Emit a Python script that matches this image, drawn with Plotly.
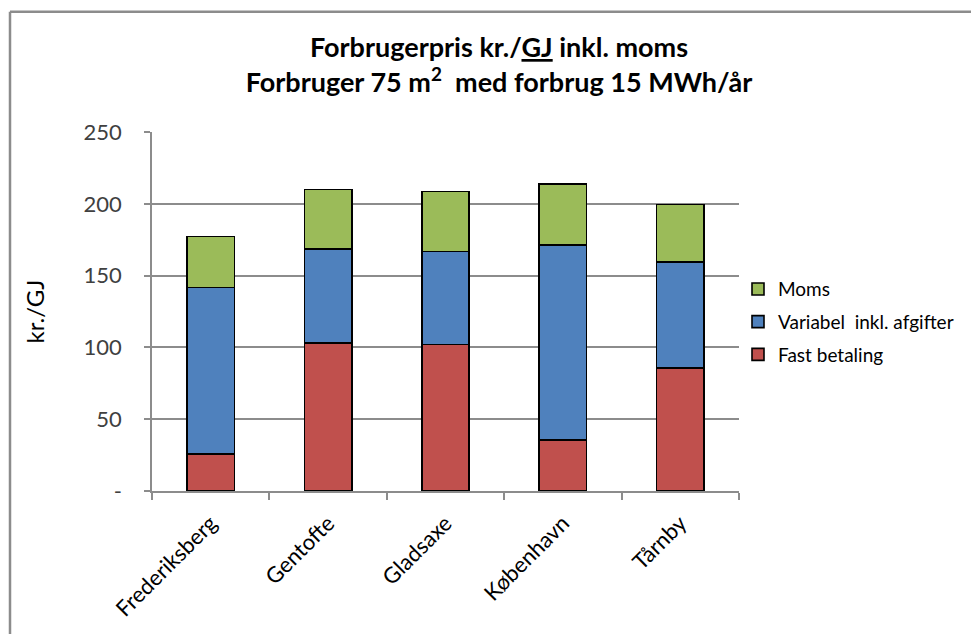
import plotly.graph_objects as go

categories = ["Frederiksberg", "Gentofte", "Gladsaxe", "København", "Tårnby"]
fast_betaling = [25.7, 103.0, 102.1, 35.4, 85.6]
variabel = [115.9, 65.4, 64.7, 136.0, 73.9]
moms = [35.5, 41.5, 41.7, 42.6, 40.1]
y_ticks = [0, 50, 100, 150, 200, 250]
y_ticktext = ["-", "50", "100", "150", "200", "250"]

FONT = "Lato, 'Open Sans', sans-serif"
line_style = dict(color="black", width=1.6)

# page body has an 8px margin, so work in reference coords minus 8
OFF = 8
W, H = 979 - OFF, 634 - OFF
L = 152 - OFF
R = W - (739 - OFF)
T = 132 - OFF
B = H - (496 - OFF)
pw, ph = W - L - R, H - T - B

fig = go.Figure()
fig.add_trace(go.Bar(x=categories, y=fast_betaling, name="Fast betaling",
                     legendgroup="a", legendrank=3,
                     marker=dict(color="#C0504D", line=line_style)))
fig.add_trace(go.Bar(x=categories, y=variabel, name="Variabel  inkl. afgifter",
                     legendgroup="b", legendrank=2,
                     marker=dict(color="#4F81BD", line=line_style)))
fig.add_trace(go.Bar(x=categories, y=moms, name="Moms",
                     legendgroup="c", legendrank=1,
                     marker=dict(color="#9BBB59", line=line_style)))

fig.update_layout(
    width=W, height=H,
    margin=dict(l=L, r=R, t=T, b=B),
    barmode="stack",
    bargap=0.595,
    plot_bgcolor="white",
    paper_bgcolor="white",
    font=dict(family=FONT, color="#404040"),
    title=dict(
        text="<b>Forbrugerpris kr./<u>GJ</u> inkl. moms<br>Forbruger 75 m<sup>2</sup>  med forbrug 15 MWh/år</b>",
        x=(499 - OFF) / W, xanchor="center", xref="container",
        y=1 - (57 - OFF) / H, yanchor="middle",
        font=dict(family=FONT, size=27, color="black"),
    ),
    showlegend=True,
    legend=dict(
        x=(738 - OFF - L) / pw, y=1 - (264 - T) / ph, xanchor="left", yanchor="top",
        traceorder="grouped",
        font=dict(family=FONT, size=19, color="black"),
        itemwidth=30, tracegroupgap=5,
        bgcolor="rgba(0,0,0,0)",
    ),
    xaxis=dict(
        showline=True, linecolor="#8c8c8c", linewidth=1.5,
        ticks="outside", tickson="boundaries", ticklen=7, tickcolor="#8c8c8c", tickwidth=1.5,
        tickangle=-45, ticklabelstandoff=9,
        tickfont=dict(family=FONT, size=22, color="black"),
        showgrid=False,
    ),
    yaxis=dict(
        range=[0, 250],
        tickvals=y_ticks, ticktext=y_ticktext,
        showline=True, linecolor="#8c8c8c", linewidth=1.5,
        ticks="outside", ticklen=6, tickcolor="#8c8c8c", tickwidth=1.5,
        ticklabelstandoff=18,
        showgrid=True, gridcolor="#8c8c8c", gridwidth=1.5,
        tickfont=dict(family=FONT, size=22, color="#404040"),
        title=dict(text="kr./GJ", font=dict(family=FONT, size=24, color="black"), standoff=32),
        zeroline=False,
    ),
)

# outer chart border (top and left visible edges)
fig.add_shape(type="line", xref="paper", yref="paper",
              x0=(10 - OFF - L) / pw, x1=(W + 5 - L) / pw,
              y0=1 + (T - (10 - OFF)) / ph, y1=1 + (T - (10 - OFF)) / ph,
              line=dict(color="#8c8c8c", width=2.5))
fig.add_shape(type="line", xref="paper", yref="paper",
              x0=(10 - OFF - L) / pw, x1=(10 - OFF - L) / pw,
              y0=1 + (T - (10 - OFF)) / ph, y1=-(B + 10) / ph,
              line=dict(color="#8c8c8c", width=2.5))

fig.write_html("out.html")
